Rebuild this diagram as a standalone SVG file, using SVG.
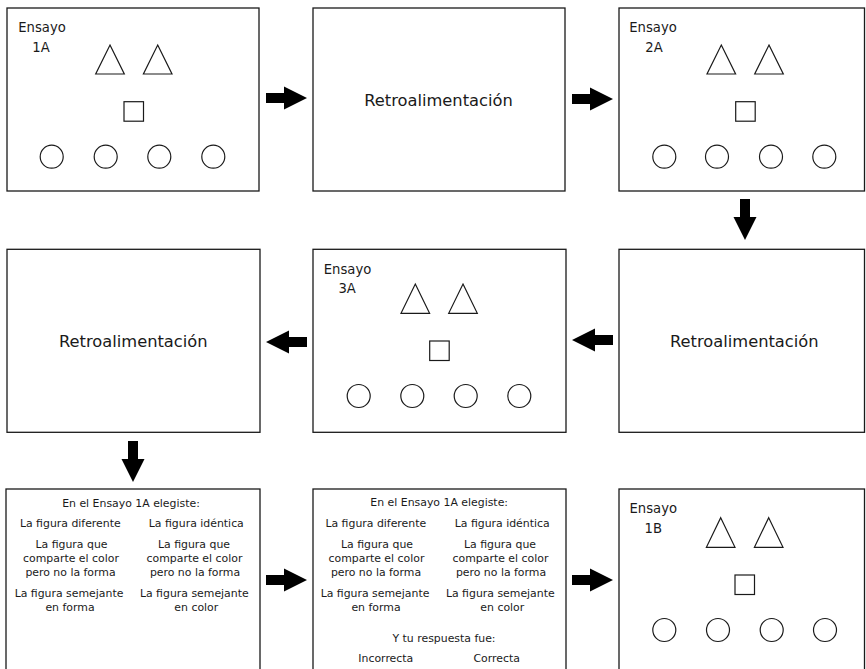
<svg xmlns="http://www.w3.org/2000/svg" xmlns:xlink="http://www.w3.org/1999/xlink" width="866" height="669" viewBox="0 0 866 669">
<style>
.box{fill:#fff;stroke:#1a1a1a;stroke-width:1.3}
.shape{fill:none;stroke:#1a1a1a;stroke-width:1.2}
.arrow{fill:#000}
text{font-family:"DejaVu Sans","Liberation Sans",sans-serif;fill:#1a1a1a;text-anchor:middle}
.lbl{font-size:13.2px}
.retro{font-size:16.3px}
.fb{font-size:10.9px}
</style>
<defs>
<path id="arr" d="M0,-5 L18,-5 L18,-11.5 L41,0 L18,11.5 L18,5 L0,5 Z"/>
</defs>
<rect width="866" height="669" fill="#fff"/>

<g id="ensayo1A">
<rect class="box" x="7" y="8" width="252" height="183"/>
<text class="lbl" x="42" y="32">Ensayo</text>
<text class="lbl" x="41" y="52">1A</text>
<path class="shape" d="M110,45 L124.3,74 L95.7,74 Z M157.7,45 L172,74 L143.4,74 Z"/>
<rect class="shape" x="124" y="101.7" width="19.5" height="19.5"/>
<circle class="shape" cx="51.7" cy="156.7" r="11.5"/>
<circle class="shape" cx="105.7" cy="156.7" r="11.5"/>
<circle class="shape" cx="159.3" cy="156.7" r="11.5"/>
<circle class="shape" cx="213.3" cy="156.7" r="11.5"/>
</g>

<g id="retro1">
<rect class="box" x="313" y="8" width="252" height="183"/>
<text class="retro" x="438.5" y="105.7">Retroalimentación</text>
</g>

<g id="ensayo2A">
<rect class="box" x="619" y="8" width="245.5" height="183"/>
<text class="lbl" x="653" y="31.7">Ensayo</text>
<text class="lbl" x="654" y="51.7">2A</text>
<path class="shape" d="M721.3,45 L735.6,74 L707,74 Z M769,45 L783.3,74 L754.7,74 Z"/>
<rect class="shape" x="735.7" y="101.7" width="19.5" height="19.5"/>
<circle class="shape" cx="664.3" cy="156.7" r="11.5"/>
<circle class="shape" cx="717" cy="156.7" r="11.5"/>
<circle class="shape" cx="771" cy="156.7" r="11.5"/>
<circle class="shape" cx="824.3" cy="156.7" r="11.5"/>
</g>

<g id="retro2">
<rect class="box" x="619" y="249.3" width="245.5" height="183"/>
<text class="retro" x="744.3" y="347.3">Retroalimentación</text>
</g>

<g id="ensayo3A">
<rect class="box" x="313" y="249.3" width="253" height="183"/>
<text class="lbl" x="347.5" y="274.3">Ensayo</text>
<text class="lbl" x="347.2" y="292.7">3A</text>
<path class="shape" d="M415.3,284 L429.6,313.3 L401,313.3 Z M463,284 L477.3,313.3 L448.7,313.3 Z"/>
<rect class="shape" x="429.7" y="341" width="19.5" height="19.5"/>
<circle class="shape" cx="358.7" cy="396" r="11.5"/>
<circle class="shape" cx="412.3" cy="396" r="11.5"/>
<circle class="shape" cx="465.7" cy="396" r="11.5"/>
<circle class="shape" cx="519.3" cy="396" r="11.5"/>
</g>

<g id="retro3">
<rect class="box" x="7" y="249.3" width="253" height="183"/>
<text class="retro" x="133.3" y="347.3">Retroalimentación</text>
</g>

<g id="feedback1">
<rect class="box" x="6" y="489" width="254" height="200"/>
<text class="fb" x="131" y="506.5">En el Ensayo 1A elegiste:</text>
<text class="fb" x="70.3" y="527">La figura diferente</text>
<text class="fb" x="196.3" y="527">La figura idéntica</text>
<text class="fb" x="71.5" y="548">La figura que</text>
<text class="fb" x="71" y="561.5">comparte el color</text>
<text class="fb" x="70.5" y="575.5">pero no la forma</text>
<text class="fb" x="194" y="548">La figura que</text>
<text class="fb" x="194.5" y="561.5">comparte el color</text>
<text class="fb" x="195" y="575.5">pero no la forma</text>
<text class="fb" x="69" y="596.5">La figura semejante</text>
<text class="fb" x="70" y="610.5">en forma</text>
<text class="fb" x="194.3" y="596.5">La figura semejante</text>
<text class="fb" x="196.3" y="610.5">en color</text>
</g>

<g id="feedback2">
<rect class="box" x="313" y="489" width="253" height="200"/>
<text class="fb" x="439.2" y="506">En el Ensayo 1A elegiste:</text>
<text class="fb" x="375.8" y="526.5">La figura diferente</text>
<text class="fb" x="502.2" y="526.5">La figura idéntica</text>
<text class="fb" x="377" y="548">La figura que</text>
<text class="fb" x="376.5" y="561.5">comparte el color</text>
<text class="fb" x="376" y="575.5">pero no la forma</text>
<text class="fb" x="500" y="548">La figura que</text>
<text class="fb" x="500.5" y="561.5">comparte el color</text>
<text class="fb" x="501" y="575.5">pero no la forma</text>
<text class="fb" x="375" y="596.5">La figura semejante</text>
<text class="fb" x="376" y="610.5">en forma</text>
<text class="fb" x="500.3" y="596.5">La figura semejante</text>
<text class="fb" x="502.3" y="610.5">en color</text>
<text class="fb" x="444" y="641.7">Y tu respuesta fue:</text>
<text class="fb" x="385.8" y="661.7">Incorrecta</text>
<text class="fb" x="496.7" y="661.7">Correcta</text>
</g>

<g id="ensayo1B">
<rect class="box" x="619" y="489" width="245.5" height="200"/>
<text class="lbl" x="653.3" y="513.3">Ensayo</text>
<text class="lbl" x="653.3" y="532.7">1B</text>
<path class="shape" d="M720.7,517.7 L735,547.3 L706.4,547.3 Z M768.7,517.7 L783,547.3 L754.4,547.3 Z"/>
<rect class="shape" x="735" y="575" width="19.5" height="19.5"/>
<circle class="shape" cx="664.3" cy="630" r="11.5"/>
<circle class="shape" cx="718" cy="630" r="11.5"/>
<circle class="shape" cx="771.7" cy="630" r="11.5"/>
<circle class="shape" cx="825" cy="630" r="11.5"/>
</g>

<g id="connectors">
<use class="arrow" xlink:href="#arr" transform="translate(266,98)"/>
<use class="arrow" xlink:href="#arr" transform="translate(572,99)"/>
<use class="arrow" xlink:href="#arr" transform="translate(745,199) rotate(90)"/>
<use class="arrow" xlink:href="#arr" transform="translate(613,340) rotate(180)"/>
<use class="arrow" xlink:href="#arr" transform="translate(307,342) rotate(180)"/>
<use class="arrow" xlink:href="#arr" transform="translate(133,441) rotate(90)"/>
<use class="arrow" xlink:href="#arr" transform="translate(266,580)"/>
<use class="arrow" xlink:href="#arr" transform="translate(572,580)"/>
</g>
</svg>
